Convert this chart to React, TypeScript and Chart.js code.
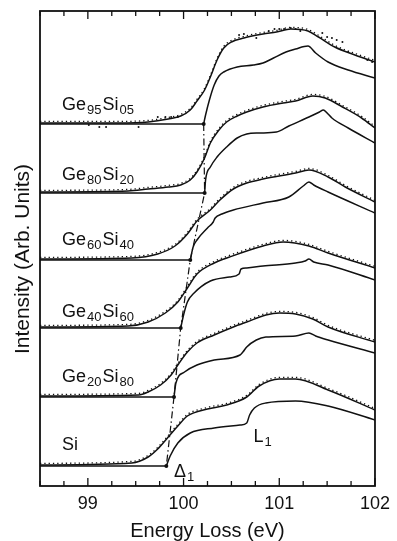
import React, { useEffect, useRef } from "react";
import { Chart, registerables } from "chart.js";
Chart.register(...registerables);

const FONT = '"Liberation Sans", Arial, Helvetica, sans-serif';
const INK = "#111111";

// ---- axes ----
const xMin = 98.5;
const xMax = 102;
const xTickStep = 0.25;
const yMax = 47.5;
const xTitle = "Energy Loss (eV)";
const yTitle = "Intensity (Arb. Units)";

// ---- panel metadata (top to bottom) ----
const panelNames: [string, boolean][][] = [
  [["Ge", false], ["95", true], ["Si", false], ["05", true]],
  [["Ge", false], ["80", true], ["Si", false], ["20", true]],
  [["Ge", false], ["60", true], ["Si", false], ["40", true]],
  [["Ge", false], ["40", true], ["Si", false], ["60", true]],
  [["Ge", false], ["20", true], ["Si", false], ["80", true]],
  [["Si", false]],
];
const offsets = [36.2, 29.3, 22.6, 15.8, 8.9, 2.0];
const onsets = [100.21, 100.22, 100.07, 99.97, 99.9, 99.82];
const labelRel = [1.4, 1.3, 1.5, 1.1, 1.5, 1.6];

// ---- Ge95Si05 ----
const ge95ExpE = [98.5, 99.32, 99.63, 99.84, 99.97, 100.07, 100.14, 100.22, 100.28, 100.35, 100.42, 100.5, 100.63, 100.83, 100.97, 101.12, 101.3, 101.41, 101.58, 101.79, 102.0];
const ge95ExpI = [0.1, 0.1, 0.2, 0.5, 0.8, 1.4, 2.3, 3.4, 4.7, 6.4, 7.6, 8.2, 8.6, 9.0, 9.2, 9.5, 9.3, 8.7, 7.7, 6.9, 6.2];
const ge95CalcE = [100.21, 100.23, 100.27, 100.32, 100.37, 100.42, 100.56, 100.73, 100.83, 100.94, 101.07, 101.17, 101.3, 101.38, 101.51, 101.72, 102.0];
const ge95CalcI = [0, 0.9, 2.4, 3.9, 4.8, 5.2, 5.7, 5.9, 6.1, 6.6, 7.2, 7.5, 7.8, 7.1, 6.2, 5.4, 4.6];
const ge95DotE = [99.01, 99.12, 99.19, 99.53, 99.73, 99.81, 99.87, 99.94, 100.58, 100.63, 100.76, 100.89, 100.95, 101.0, 101.05, 101.12, 101.17, 101.22, 101.45, 101.5, 101.55, 101.6, 101.66, 101.72, 101.92, 101.97];
const ge95DotI = [-0.1, -0.3, -0.3, -0.3, 0.7, 0.7, 0.7, 0.7, 8.9, 9.0, 8.6, 9.3, 9.5, 9.5, 9.5, 9.6, 9.5, 9.3, 9.1, 8.7, 8.6, 8.4, 8.2, 7.2, 6.4, 6.2];

// ---- Ge80Si20 ----
const ge80ExpE = [98.5, 99.42, 99.63, 99.84, 99.97, 100.07, 100.14, 100.22, 100.28, 100.37, 100.45, 100.56, 100.66, 100.83, 101.04, 101.17, 101.35, 101.48, 101.66, 101.86, 102.0];
const ge80ExpI = [0.1, 0.2, 0.4, 0.6, 0.8, 1.3, 2.1, 3.5, 5.0, 6.3, 7.1, 7.7, 8.1, 8.6, 9.0, 9.2, 9.7, 9.5, 8.6, 7.5, 6.5];
const ge80CalcE = [100.22, 100.23, 100.28, 100.35, 100.45, 100.56, 100.66, 100.79, 100.97, 101.1, 101.31, 101.42, 101.46, 101.5, 101.55, 101.72, 102.0];
const ge80CalcI = [0, 1.3, 2.6, 3.6, 4.6, 5.5, 5.9, 6.0, 6.1, 6.7, 7.6, 8.1, 8.3, 8.0, 7.5, 6.5, 5.0];

// ---- Ge60Si40 ----
const ge60ExpE = [98.5, 99.46, 99.73, 99.91, 100.04, 100.14, 100.28, 100.38, 100.52, 100.66, 100.83, 101.17, 101.31, 101.51, 101.69, 102.0];
const ge60ExpI = [0.1, 0.2, 0.6, 1.4, 2.6, 3.9, 5.0, 6.0, 7.1, 7.7, 8.1, 8.7, 9.0, 8.3, 7.3, 5.8];
const ge60CalcE = [100.07, 100.1, 100.14, 100.25, 100.31, 100.33, 100.4, 100.52, 100.83, 101.1, 101.25, 101.31, 101.36, 101.51, 102.0];
const ge60CalcI = [0, 1.3, 2.0, 3.2, 3.8, 4.2, 4.6, 5.0, 5.7, 6.3, 7.4, 7.8, 7.5, 6.8, 4.7];

// ---- Ge40Si60 ----
const ge40ExpE = [98.5, 99.42, 99.63, 99.81, 99.94, 100.04, 100.14, 100.32, 100.48, 100.83, 101.04, 101.31, 101.51, 102.0];
const ge40ExpI = [0.1, 0.2, 0.6, 1.5, 2.6, 4.0, 5.4, 6.5, 7.1, 8.2, 8.6, 8.2, 7.5, 6.0];
const ge40CalcE = [99.97, 100.0, 100.04, 100.11, 100.28, 100.48, 100.58, 100.6, 100.66, 100.83, 101.17, 101.27, 101.31, 101.36, 101.51, 102.0];
const ge40CalcI = [0, 1.3, 2.6, 3.5, 4.7, 5.1, 5.4, 5.9, 6.0, 6.2, 6.5, 6.7, 6.9, 6.6, 6.3, 4.8];

// ---- Ge20Si80 ----
const ge20ExpE = [98.5, 99.53, 99.63, 99.76, 99.87, 99.94, 100.04, 100.14, 100.32, 100.52, 100.66, 100.86, 101.0, 101.17, 101.35, 101.51, 102.0];
const ge20ExpI = [0.1, 0.2, 0.5, 1.2, 2.2, 3.2, 4.5, 5.4, 6.2, 7.0, 7.5, 8.2, 8.4, 8.3, 7.8, 7.0, 5.5];
const ge20CalcE = [99.9, 99.92, 100.01, 100.14, 100.32, 100.59, 100.62, 100.66, 100.76, 100.86, 101.17, 101.31, 101.38, 101.51, 102.0];
const ge20CalcI = [0, 1.4, 2.5, 3.2, 3.7, 4.2, 4.5, 5.0, 5.7, 6.0, 6.1, 6.4, 6.1, 5.7, 4.4];

// ---- Si ----
const siExpE = [98.5, 99.46, 99.63, 99.73, 99.84, 99.94, 100.04, 100.25, 100.45, 100.66, 100.79, 101.0, 101.17, 101.51, 102.0];
const siExpI = [0.1, 0.3, 0.9, 1.7, 2.9, 4.0, 5.0, 5.7, 6.1, 6.9, 8.0, 8.7, 8.7, 7.6, 5.6];
const siCalcE = [99.82, 99.86, 99.94, 100.07, 100.32, 100.59, 100.66, 100.69, 100.74, 100.86, 101.17, 101.51, 102.0];
const siCalcI = [0, 1.0, 2.3, 3.3, 3.8, 4.1, 4.3, 5.1, 5.8, 6.3, 6.5, 6.0, 4.6];

// annotations
const deltaLabel: [string, boolean][] = [["Δ", false], ["1", true]];
const deltaPos = [99.9, 0.9];
const l1Label: [string, boolean][] = [["L", false], ["1", true]];
const l1Pos = [100.73, 4.4];

const expE = [ge95ExpE, ge80ExpE, ge60ExpE, ge40ExpE, ge20ExpE, siExpE];
const expI = [ge95ExpI, ge80ExpI, ge60ExpI, ge40ExpI, ge20ExpI, siExpI];
const calcE = [ge95CalcE, ge80CalcE, ge60CalcE, ge40CalcE, ge20CalcE, siCalcE];
const calcI = [ge95CalcI, ge80CalcI, ge60CalcI, ge40CalcI, ge20CalcI, siCalcI];

const toPts = (es: number[], is: number[], off: number) =>
  es.map((e, k) => ({ x: e, y: off + is[k] }));

function buildDatasets(): any[] {
  const ds: any[] = [];
  for (let i = 0; i < offsets.length; i++) {
    const off = offsets[i];
    ds.push({
      data: [{ x: xMin, y: off }, { x: onsets[i], y: off }],
      borderColor: INK, borderWidth: 1.3, pointRadius: 0, tension: 0,
    });
    ds.push({
      data: toPts(expE[i], expI[i], off),
      borderColor: INK, borderWidth: 1.5, pointRadius: 0,
      cubicInterpolationMode: "monotone",
    });
    ds.push({
      data: toPts(expE[i], expI[i], off),
      borderColor: INK, borderWidth: 1.3, borderDash: [1.3, 3], pointRadius: 0,
      cubicInterpolationMode: "monotone", shiftY: -1.6,
    });
    ds.push({
      data: toPts(calcE[i], calcI[i], off),
      borderColor: INK, borderWidth: 1.5, pointRadius: 0,
      cubicInterpolationMode: "monotone",
    });
  }
  ds.push({
    data: toPts(ge95DotE, ge95DotI, offsets[0]),
    showLine: false, pointRadius: 1, pointBorderWidth: 0,
    pointBackgroundColor: INK, borderColor: INK,
  });
  ds.push({
    data: onsets.map((e, i) => ({ x: e, y: offsets[i] })),
    borderColor: INK, borderWidth: 1.2, borderDash: [7, 3, 1.5, 3], tension: 0,
    pointRadius: 2, pointBorderWidth: 0, pointBackgroundColor: INK,
  });
  return ds;
}

function drawSub(ctx: CanvasRenderingContext2D, parts: [string, boolean][], x: number, y: number, main: number, sub: number) {
  let cx = x;
  ctx.textAlign = "left";
  ctx.textBaseline = "alphabetic";
  for (const [t, s] of parts) {
    ctx.font = `${s ? sub : main}px ${FONT}`;
    ctx.fillText(t, cx, s ? y + 3.5 : y);
    cx += ctx.measureText(t).width + 1;
  }
}

const decor = {
  id: "decor",
  beforeDatasetDraw(chart: any, args: any) {
    const d = chart.data.datasets[args.index];
    if (d.shiftY) { chart.ctx.save(); chart.ctx.translate(0, d.shiftY); }
  },
  afterDatasetDraw(chart: any, args: any) {
    const d = chart.data.datasets[args.index];
    if (d.shiftY) chart.ctx.restore();
  },
  afterDraw(chart: any) {
    const ctx: CanvasRenderingContext2D = chart.ctx;
    const xs = chart.scales.x;
    const ys = chart.scales.y;
    const { left, right, top, bottom } = chart.chartArea;
    ctx.save();
    ctx.strokeStyle = INK;
    ctx.fillStyle = INK;
    ctx.lineWidth = 1.8;
    ctx.strokeRect(left, top, right - left, bottom - top);
    ctx.lineWidth = 1.3;
    for (const t of xs.ticks) {
      const v = t.value;
      const px = xs.getPixelForValue(v);
      const major = Math.abs(v - Math.round(v)) < 1e-6;
      const len = major ? 8 : 5;
      ctx.beginPath();
      ctx.moveTo(px, bottom); ctx.lineTo(px, bottom - len);
      ctx.moveTo(px, top); ctx.lineTo(px, top + len);
      ctx.stroke();
    }
    // panel labels
    for (let i = 0; i < panelNames.length; i++) {
      drawSub(ctx, panelNames[i], xs.getPixelForValue(98.73), ys.getPixelForValue(offsets[i] + labelRel[i]), 18, 13);
    }
    drawSub(ctx, deltaLabel, xs.getPixelForValue(deltaPos[0]), ys.getPixelForValue(deltaPos[1]), 18, 13);
    drawSub(ctx, l1Label, xs.getPixelForValue(l1Pos[0]), ys.getPixelForValue(l1Pos[1]), 18, 13);
    // axis titles
    ctx.font = `20px ${FONT}`;
    ctx.textAlign = "center";
    ctx.textBaseline = "alphabetic";
    ctx.fillText(xTitle, (left + right) / 2, 537);
    ctx.save();
    ctx.translate(29, 259);
    ctx.rotate(-Math.PI / 2);
    ctx.font = `21px ${FONT}`;
    ctx.fillText(yTitle, 0, 0);
    ctx.restore();
    ctx.restore();
  },
};

export default function App() {
  const ref = useRef<HTMLCanvasElement>(null);
  useEffect(() => {
    document.body.style.margin = "0";
    const chart = new Chart(ref.current as HTMLCanvasElement, {
      type: "line",
      data: { datasets: buildDatasets() },
      options: {
        animation: false,
        responsive: false,
        devicePixelRatio: 1,
        parsing: false as any,
        layout: { padding: { left: 40, right: 16, top: 11, bottom: 0 } },
        plugins: { legend: { display: false }, tooltip: { enabled: false } },
        scales: {
          x: {
            type: "linear", min: xMin, max: xMax,
            grid: { display: false, drawTicks: false },
            border: { display: false },
            ticks: {
              stepSize: xTickStep, autoSkip: false, maxRotation: 0, padding: 7,
              color: INK, font: { family: FONT, size: 18 },
              callback: (v: any) => (Math.abs(v - Math.round(v)) < 1e-6 ? String(Math.round(v)) : ""),
            },
            afterFit: (s: any) => { s.height = 55; },
          },
          y: { type: "linear", min: 0, max: yMax, display: false },
        },
      },
      plugins: [decor],
    } as any);
    return () => chart.destroy();
  }, []);
  return (
    <div style={{ width: 397, height: 541 }}>
      <canvas ref={ref} width={397} height={541} style={{ display: "block", width: 397, height: 541 }} />
    </div>
  );
}
